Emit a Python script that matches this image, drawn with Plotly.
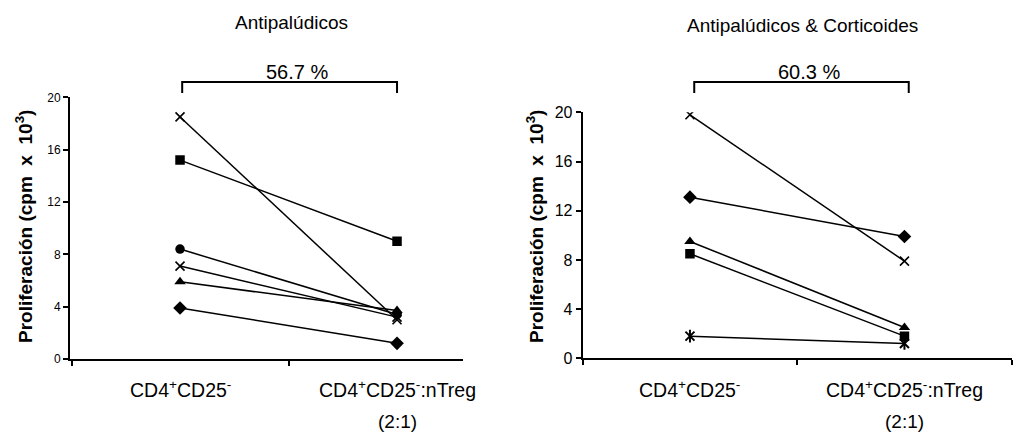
import plotly.graph_objects as go

W, H = 1013, 434

# ---------------- data ----------------
categories = ["CD4<sup>+</sup>CD25<sup>-</sup>", "CD4<sup>+</sup>CD25<sup>-</sup>:nTreg"]
ratio_label = "(2:1)"
y_ticks = [0, 4, 8, 12, 16, 20]
y_title = "Proliferación (cpm  x  10<sup>3</sup>)"

left_title = "Antipalúdicos"
left_pct = "56.7 %"
left_before = [18.5, 15.2, 8.4, 7.1, 5.9, 3.9]
left_after = [3.0, 9.0, 3.4, 3.2, 3.7, 1.2]
left_symbols = ["x", "square", "circle", "x", "triangle", "diamond"]

right_title = "Antipalúdicos & Corticoides"
right_pct = "60.3 %"
right_before = [19.8, 13.1, 9.5, 8.5, 1.8]
right_after = [7.9, 9.9, 2.5, 1.8, 1.2]
right_symbols = ["x", "diamond", "triangle", "square", "star"]

# ---------------- helpers ----------------
def px(x):
    return x / W

def py(y):
    return 1 - y / H

FONT = "Arial, Liberation Sans, sans-serif"

sym_map = {
    "x": ("x-thin-open", 9, 1.6),
    "square": ("square", 9.5, 0),
    "circle": ("circle", 9.5, 0),
    "triangle": ("triangle-up", 10, 0),
    "diamond": ("diamond", 10.5, 0),
    "star": ("x-thin-open", 9, 2),
}

fig = go.Figure()

def add_series(before, after, symbols, xa, ya):
    for b, a, s in zip(before, after, symbols):
        sym, size, lw = sym_map[s]
        fig.add_trace(go.Scatter(
            x=[0, 1], y=[b, a], mode="lines+markers",
            line=dict(color="black", width=1.5),
            marker=dict(symbol=sym, size=size, color="black",
                        line=dict(color="black", width=lw)),
            xaxis=xa, yaxis=ya, showlegend=False, hoverinfo="y"))
        if s == "star":
            fig.add_trace(go.Scatter(
                x=[0, 1], y=[b, a], mode="markers",
                marker=dict(symbol="line-ns-open", size=9, color="black",
                            line=dict(color="black", width=2)),
                xaxis=xa, yaxis=ya, showlegend=False, hoverinfo="skip"))

add_series(left_before, left_after, left_symbols, "x", "y")
add_series(right_before, right_after, right_symbols, "x2", "y2")

axis_common = dict(showgrid=False, zeroline=False, showline=True,
                   linecolor="black", linewidth=2, ticks="outside",
                   ticklen=5, tickwidth=1.5, tickcolor="black", fixedrange=True,
                   automargin=False)

fig.update_layout(
    width=W, height=H, autosize=False,
    margin=dict(l=0, r=0, t=0, b=0, pad=0),
    paper_bgcolor="white", plot_bgcolor="white",
    font=dict(family=FONT, color="black"),
    xaxis=dict(domain=[px(70), px(463)], range=[-0.507, 1.304],
               tickvals=[-0.5, 0.5], ticktext=["", ""], anchor="y", **axis_common),
    yaxis=dict(domain=[py(359), py(97.3)], range=[0, 20], tickvals=y_ticks,
               tickfont=dict(size=12, family=FONT, color="black"), anchor="x",
               **axis_common),
    xaxis2=dict(domain=[px(582.7), px(1011.7)], range=[-0.5, 1.5],
                tickvals=[-0.5, 0.5, 1.5], ticktext=["", "", ""], anchor="y2",
                **axis_common),
    yaxis2=dict(domain=[py(358.3), py(112.3)], range=[0, 20], tickvals=y_ticks,
                tickfont=dict(size=16, family=FONT, color="black"), anchor="x2",
                **axis_common),
)

def label(text, x, y, size, xref="paper", angle=0, bold=False):
    return dict(text=("<b>" + text + "</b>") if bold else text,
                x=x, y=y, xref=xref, yref="paper", xanchor="center",
                yanchor="middle", textangle=angle, showarrow=False,
                font=dict(size=size, family=FONT, color="black"))

ann = [
    label(left_title, px(291), py(22), 19),
    label(right_title, px(802), py(26), 19),
    label(left_pct, px(297), py(72), 20),
    label(right_pct, px(809), py(72), 20),
    label(y_title, px(24), py(227), 19, angle=-90, bold=True),
    label(y_title, px(535), py(227), 19, angle=-90, bold=True),
]
for xa in ["x", "x2"]:
    for i, c in enumerate(categories):
        ann.append(label(c, i, py(389), 19.5, xref=xa))
    ann.append(label(ratio_label, 1, py(421.5), 19, xref=xa))
fig.update_layout(annotations=ann)

# brackets
shapes = []
for xa, x0, x1 in [("x", 0.01, 1.0), ("x2", 0.02, 1.02)]:
    shapes.append(dict(type="path", xref=xa, yref="paper",
                       path=f"M {x0},{py(93)} L {x0},{py(82)} L {x1},{py(82)} L {x1},{py(93)}",
                       line=dict(color="black", width=2)))
fig.update_layout(shapes=shapes)

fig.write_html("out.html",
               config={"responsive": False, "displayModeBar": False},
               post_script="document.body.style.margin='0px';document.body.style.overflow='hidden';")
